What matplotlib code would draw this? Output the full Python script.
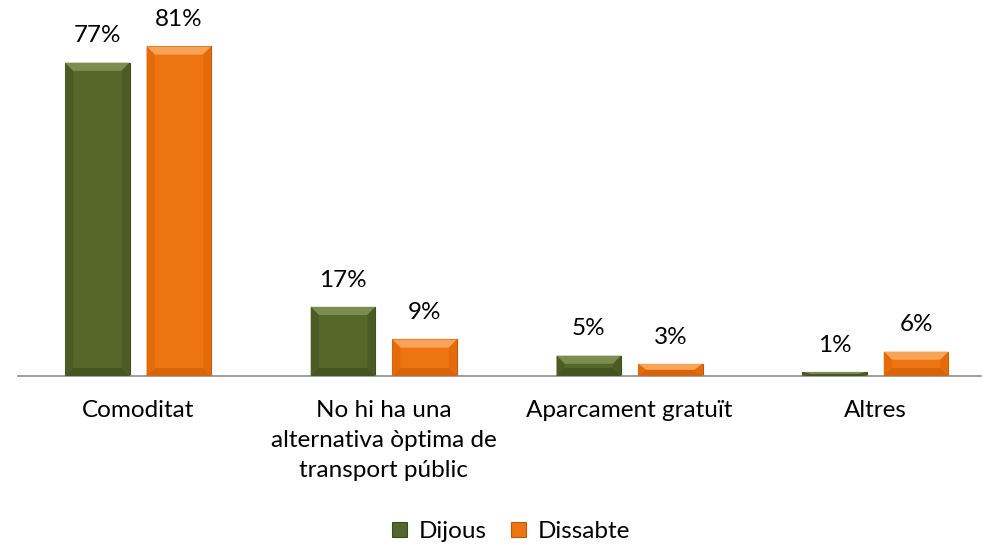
import matplotlib.pyplot as plt
from matplotlib.patches import Polygon
import numpy as np

categories = ["Comoditat", "No hi ha una\nalternativa òptima de\ntransport públic",
              "Aparcament gratuït", "Altres"]
dijous = [77, 17, 5, 1]
dissabte = [81, 9, 3, 6]
labels_dijous = ["77%", "17%", "5%", "1%"]
labels_dissabte = ["81%", "9%", "3%", "6%"]

plt.rcParams['font.family'] = ['Lato', 'DejaVu Sans']

fig = plt.figure(figsize=(9.83, 5.45), dpi=100)
ax = fig.add_axes([0.018, 0.310, 0.98, 0.672])

x = np.arange(len(categories))
w = 0.263
off = 0.166
green = "#56672B"
orange = "#EE7411"
# bevel colours: (top, sides, bottom)
bevel = {green: ("#7D8C50", "#4C5B25", "#46541F"),
         orange: ("#F7A358", "#E56A0A", "#D8650B")}

b1 = ax.bar(x - off, dijous, w, color=green, edgecolor="#3E4B1E", linewidth=0.8, label="Dijous")
b2 = ax.bar(x + off, dissabte, w, color=orange, edgecolor="#B9590B", linewidth=0.8, label="Dissabte")

bx = 0.033
for bars, col in ((b1, green), (b2, orange)):
    top, side, bot = bevel[col]
    for bar in bars:
        x0 = bar.get_x()
        x1 = x0 + bar.get_width()
        h = bar.get_height()
        by = min(2.0, h / 2)
        ax.add_patch(Polygon([(x0, h), (x1, h), (x1 - bx, h - by), (x0 + bx, h - by)],
                             closed=True, facecolor=top, edgecolor="none", zorder=3))
        ax.add_patch(Polygon([(x0, 0), (x1, 0), (x1 - bx, by), (x0 + bx, by)],
                             closed=True, facecolor=bot, edgecolor="none", zorder=3))
        ax.add_patch(Polygon([(x0, 0), (x0 + bx, by), (x0 + bx, h - by), (x0, h)],
                             closed=True, facecolor=side, edgecolor="none", zorder=3))
        ax.add_patch(Polygon([(x1, 0), (x1 - bx, by), (x1 - bx, h - by), (x1, h)],
                             closed=True, facecolor=side, edgecolor="none", zorder=3))

for bars, labs in ((b1, labels_dijous), (b2, labels_dissabte)):
    for bar, lab in zip(bars, labs):
        ax.text(bar.get_x() + bar.get_width() / 2, bar.get_height() + 4, lab,
                ha="center", va="bottom", fontsize=17.5)

ax.set_xlim(-0.49, 3.43)
ax.set_ylim(0, 90)
ax.set_yticks([])
ax.set_xticks(x)
ax.set_xticklabels(categories, fontsize=17.5, linespacing=1.55)
ax.tick_params(axis="x", length=0, pad=17)
for s in ("top", "right", "left"):
    ax.spines[s].set_visible(False)
ax.spines["bottom"].set_color("#8C8C8C")
ax.spines["bottom"].set_linewidth(1.2)

fig.legend(handles=[b1, b2], loc="center", bbox_to_anchor=(0.52, 0.025), ncol=2,
           frameon=False, fontsize=17.5, handlelength=0.6, handleheight=0.6,
           handletextpad=0.5, columnspacing=1.0)

fig.savefig("out.png", dpi=100)
